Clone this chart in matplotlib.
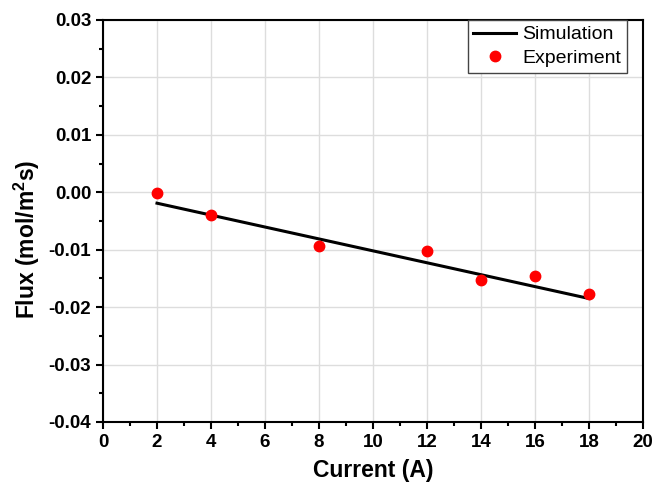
import matplotlib
matplotlib.use("Agg")
import matplotlib.pyplot as plt
from matplotlib.ticker import MultipleLocator, FormatStrFormatter

plt.rcParams['font.family'] = ['Liberation Sans', 'DejaVu Sans']
plt.rcParams['mathtext.fontset'] = 'custom'
plt.rcParams['mathtext.rm'] = 'Liberation Sans:bold'
plt.rcParams['mathtext.bf'] = 'Liberation Sans:bold'

sim_x = [2, 18]
sim_y = [-0.0019, -0.0185]
exp_x = [2, 4, 8, 12, 14, 16, 18]
exp_y = [-0.0002, -0.0040, -0.0094, -0.0102, -0.0153, -0.0146, -0.0177]

fig = plt.figure(figsize=(6.71, 4.9), dpi=100)
ax = fig.add_axes([0.1535, 0.1388, 0.8048, 0.8204])

ax.plot(sim_x, sim_y, color='black', lw=2.2, label='Simulation', zorder=3)
ax.plot(exp_x, exp_y, 'o', color='#ff0000', ms=7.5, label='Experiment', zorder=4)

ax.set_xlim(0, 20)
ax.set_ylim(-0.04, 0.03)
ax.xaxis.set_major_locator(MultipleLocator(2))
ax.xaxis.set_minor_locator(MultipleLocator(1))
ax.yaxis.set_major_locator(MultipleLocator(0.01))
ax.yaxis.set_minor_locator(MultipleLocator(0.005))
ax.yaxis.set_major_formatter(FormatStrFormatter('%.2f'))
ax.grid(True, which='major', color='#dddddd', lw=1)
ax.set_axisbelow(True)

for s in ax.spines.values():
    s.set_linewidth(1.5)
ax.tick_params(which='major', direction='out', length=5, width=1.5, labelsize=13.5, top=False, right=False)
ax.tick_params(which='minor', direction='out', length=3, width=1.5, top=False, right=False)
for lbl in ax.get_xticklabels() + ax.get_yticklabels():
    lbl.set_fontweight('bold')

ax.set_xlabel('Current (A)', fontsize=16.5, fontweight='bold', labelpad=6)
ax.set_ylabel('Flux (mol/m$^2$s)', fontsize=16.5, fontweight='bold', labelpad=4)
ax.yaxis.set_label_coords(-0.113, 0.455)

leg = ax.legend(loc='upper right', bbox_to_anchor=(0.97, 1.0), fontsize=14, frameon=True,
                fancybox=False, edgecolor='#444444', framealpha=1, borderaxespad=0,
                handlelength=2.2, handletextpad=0.3, labelspacing=0.3, borderpad=0.3,
                markerscale=1.0)
leg.get_frame().set_linewidth(1)

fig.savefig('out.png', dpi=100)
